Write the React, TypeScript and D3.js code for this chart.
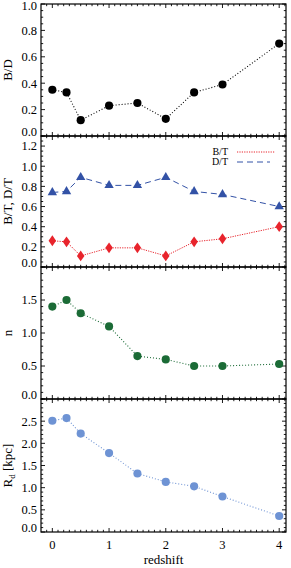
import React, { useEffect, useRef } from 'react'
import * as d3 from 'd3'

const redshift = [0, 0.25, 0.5, 1, 1.5, 2, 2.5, 3, 4]
const bulgeToDisk = [0.35, 0.33, 0.12, 0.23, 0.25, 0.13, 0.33, 0.39, 0.70]
const bulgeToTotal = [0.26, 0.25, 0.11, 0.19, 0.19, 0.11, 0.25, 0.28, 0.40]
const diskToTotal = [0.74, 0.75, 0.89, 0.81, 0.81, 0.89, 0.75, 0.72, 0.60]
const sersicIndex = [1.4, 1.5, 1.3, 1.1, 0.65, 0.6, 0.5, 0.5, 0.53]
const diskRadius = [2.51, 2.57, 2.22, 1.78, 1.32, 1.13, 1.03, 0.8, 0.36]
const xTicks = [0, 1, 2, 3, 4]
const legendNames = ['B/T', 'D/T']

const FONT = '"Liberation Serif", "Times New Roman", serif'

type Series = {
  values: number[]
  color: string
  marker: 'circle' | 'diamond' | 'triangle'
  dash: string
  lineWidth: number
}

type Panel = {
  label: string
  sub?: string
  labelRest?: string
  domain: [number, number]
  major: number[]
  minorStep: number
  series: Series[]
  legend?: boolean
}

const panels: Panel[] = [
  {
    label: 'B/D',
    domain: [0, 1.0],
    major: [0, 0.2, 0.4, 0.6, 0.8, 1.0],
    minorStep: 0.05,
    series: [{ values: bulgeToDisk, color: '#000000', marker: 'circle', dash: '1,2', lineWidth: 1.1 }],
  },
  {
    label: 'B/T, D/T',
    domain: [0, 1.3],
    major: [0, 0.2, 0.4, 0.6, 0.8, 1.0, 1.2],
    minorStep: 0.05,
    series: [
      { values: bulgeToTotal, color: '#e8242c', marker: 'diamond', dash: '1.2,1.2', lineWidth: 1 },
      { values: diskToTotal, color: '#3352a6', marker: 'triangle', dash: '6,4', lineWidth: 1 },
    ],
    legend: true,
  },
  {
    label: 'n',
    domain: [0, 2],
    major: [0, 0.5, 1.0, 1.5],
    minorStep: 0.1,
    series: [{ values: sersicIndex, color: '#1b6b36', marker: 'circle', dash: '1,2', lineWidth: 1.1 }],
  },
  {
    label: 'R',
    sub: 'd',
    labelRest: ' [kpc]',
    domain: [0, 3],
    major: [0, 0.5, 1.0, 1.5, 2.0, 2.5],
    minorStep: 0.1,
    series: [{ values: diskRadius, color: '#6e93d4', marker: 'circle', dash: '1,2', lineWidth: 1.1 }],
  },
]

const App = () => {
  const svgRef = useRef<SVGSVGElement>(null)

  useEffect(() => {
    if (!svgRef.current) return
    const width = 291
    const height = 568
    const left = 41
    const right = 286
    const tops = [4, 136, 267, 399, 532]

    d3.select(svgRef.current).selectAll('*').remove()
    const svg = d3.select(svgRef.current).attr('width', width).attr('height', height)

    const x = d3.scaleLinear().domain([-0.2, 4.12]).range([left, right])
    const xMinor = d3.range(-0.1, 4.11, 0.1).map(v => Math.round(v * 10) / 10)

    panels.forEach((p, i) => {
      const top = tops[i]
      const bottom = tops[i + 1]
      const y = d3.scaleLinear().domain(p.domain).range([bottom, top])
      const g = svg.append('g')

      // frame
      g.append('rect')
        .attr('x', left).attr('y', top)
        .attr('width', right - left).attr('height', bottom - top)
        .attr('fill', 'none').attr('stroke', '#000').attr('stroke-width', 1.2)

      // x ticks on top and bottom edges
      xMinor.forEach(v => {
        const isMajor = Math.abs(v - Math.round(v)) < 1e-6
        const len = isMajor ? 4 : 2.2
        const px = x(v)
        g.append('line').attr('x1', px).attr('x2', px).attr('y1', bottom).attr('y2', bottom - len)
          .attr('stroke', '#000').attr('stroke-width', 0.9)
        g.append('line').attr('x1', px).attr('x2', px).attr('y1', top).attr('y2', top + len)
          .attr('stroke', '#000').attr('stroke-width', 0.9)
      })

      // y ticks on left and right edges
      const yMinor = d3.range(p.domain[0], p.domain[1] + 1e-6, p.minorStep)
      yMinor.forEach(v => {
        const isMajor = p.major.some(m => Math.abs(m - v) < 1e-6)
        const len = isMajor ? 4 : 2.2
        const py = y(v)
        g.append('line').attr('x1', left).attr('x2', left + len).attr('y1', py).attr('y2', py)
          .attr('stroke', '#000').attr('stroke-width', 0.9)
        g.append('line').attr('x1', right).attr('x2', right - len).attr('y1', py).attr('y2', py)
          .attr('stroke', '#000').attr('stroke-width', 0.9)
      })

      // y tick labels
      p.major.forEach(v => {
        g.append('text')
          .attr('x', 37)
          .attr('y', Math.max(Math.min(y(v), bottom - 4), 6))
          .attr('dy', '0.35em')
          .attr('text-anchor', 'end')
          .style('font-family', FONT)
          .style('font-size', '12.5px')
          .text(v.toFixed(1))
      })

      // y axis title
      const title = g.append('text')
        .attr('transform', `translate(12,${(top + bottom) / 2}) rotate(-90)`)
        .attr('text-anchor', 'middle')
        .style('font-family', FONT)
        .style('font-size', '13px')
      title.append('tspan').text(p.label)
      if (p.sub) {
        title.append('tspan').attr('dy', 3).style('font-size', '9px').text(p.sub)
        title.append('tspan').attr('dy', -3).text(p.labelRest || '')
      }

      // series
      p.series.forEach(s => {
        const line = d3.line<number>()
          .x((_, j) => x(redshift[j]))
          .y(d => y(d))
        g.append('path')
          .datum(s.values)
          .attr('d', line)
          .attr('fill', 'none')
          .attr('stroke', s.color)
          .attr('stroke-width', s.lineWidth)
          .attr('stroke-dasharray', s.dash)

        const symbolType = s.marker === 'circle' ? d3.symbolCircle
          : s.marker === 'diamond' ? d3.symbolDiamond : d3.symbolTriangle
        const size = s.marker === 'circle' ? 52 : s.marker === 'diamond' ? 34 : 38
        const sym = d3.symbol().type(symbolType).size(size)
        g.selectAll(null)
          .data(s.values)
          .enter()
          .append('path')
          .attr('d', sym)
          .attr('transform', (d, j) => `translate(${x(redshift[j])},${y(d)})${s.marker === 'diamond' ? ' scale(1.2,1)' : ''}`)
          .attr('fill', s.color)
      })

      // legend
      if (p.legend) {
        p.series.forEach((s, k) => {
          const ly = 152 + k * 10
          g.append('text')
            .attr('x', 228).attr('y', ly).attr('dy', '0.33em')
            .attr('text-anchor', 'end')
            .style('font-family', FONT)
            .style('font-size', '10px')
            .text(legendNames[k])
          g.append('line')
            .attr('x1', 237).attr('x2', k === 0 ? 275 : 270)
            .attr('y1', ly).attr('y2', ly)
            .attr('stroke', s.color)
            .attr('stroke-width', s.lineWidth)
            .attr('stroke-dasharray', s.dash)
        })
      }
    })

    // x tick labels and title
    xTicks.forEach(v => {
      svg.append('text')
        .attr('x', x(v)).attr('y', 545).attr('dy', '0.35em')
        .attr('text-anchor', 'middle')
        .style('font-family', FONT)
        .style('font-size', '12.5px')
        .text(String(v))
    })
    svg.append('text')
      .attr('x', (left + right) / 2).attr('y', 559).attr('dy', '0.35em')
      .attr('text-anchor', 'middle')
      .style('font-family', FONT)
      .style('font-size', '13px')
      .text('redshift')
  }, [])

  return (
    <div style={{ position: 'absolute', left: 0, top: 0, background: '#fff' }}>
      <svg ref={svgRef} style={{ display: 'block' }}></svg>
    </div>
  )
}

export default App
